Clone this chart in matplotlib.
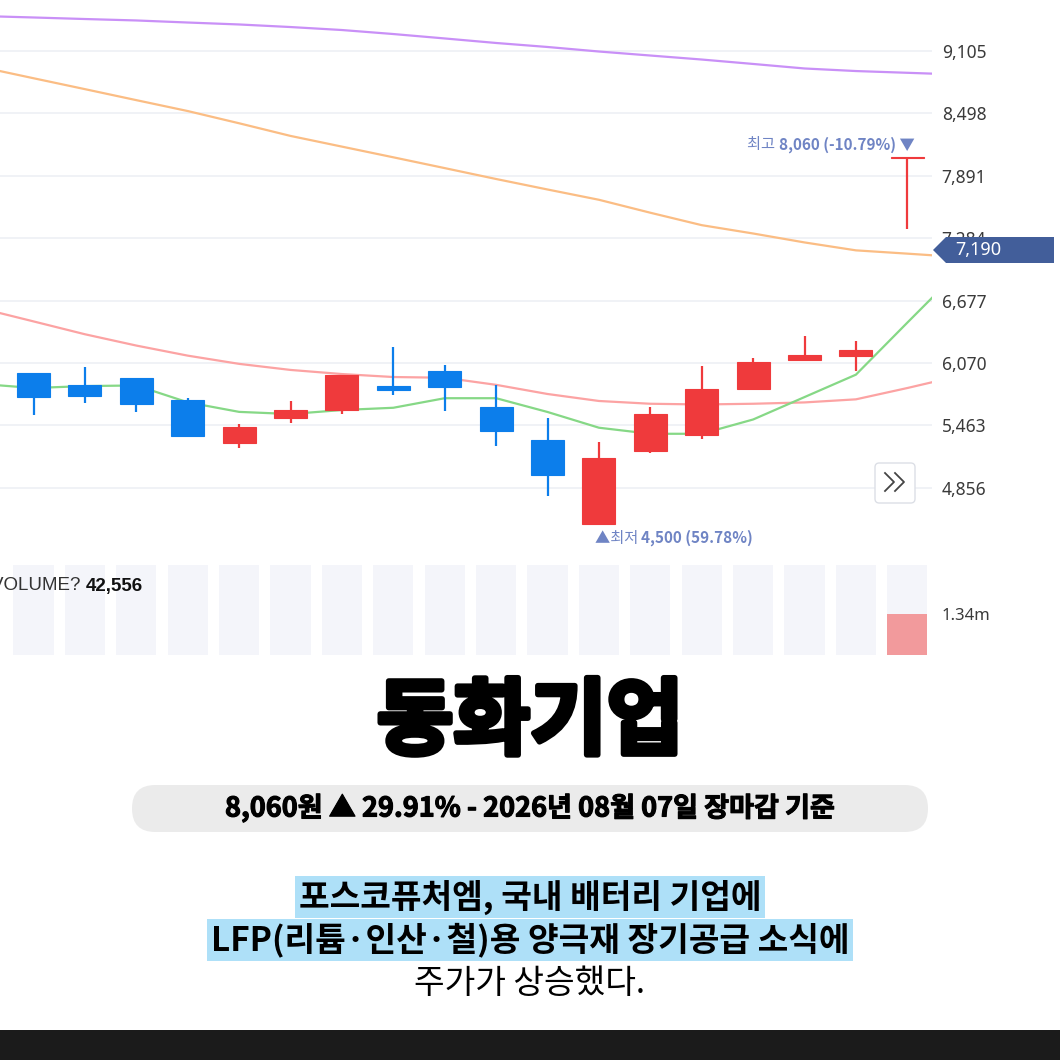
import numpy as np
import matplotlib
matplotlib.use("Agg")
import matplotlib.pyplot as plt
import matplotlib.patheffects as pe
from matplotlib.patches import FancyBboxPatch, Polygon, Rectangle
from matplotlib.lines import Line2D
from matplotlib.offsetbox import TextArea, HPacker, AnnotationBbox

plt.rcParams['font.family'] = ['Noto Sans CJK KR', 'DejaVu Sans']

# daily candles, oldest -> newest
opens  = [5973, 5856, 5924, 5710, 5292, 5535, 5613, 5846, 5992, 5642, 5321, 4500, 5214, 5370, 5817, 6099, 6138, 8060]
highs  = [5973, 6031, 5924, 5730, 5477, 5701, 5953, 6226, 6051, 5856, 5535, 5302, 5642, 6041, 6119, 6333, 6284, 8060]
lows   = [5564, 5681, 5594, 5360, 5243, 5487, 5574, 5759, 5603, 5263, 4776, 4500, 5195, 5331, 5817, 6099, 5992, 7374]
closes = [5739, 5749, 5671, 5360, 5448, 5613, 5953, 5808, 5837, 5409, 4981, 5146, 5574, 5817, 6080, 6148, 6197, 8060]
volumes = [0, 0, 0, 0, 0, 0, 0, 0, 0, 0, 0, 0, 0, 0, 0, 0, 0, 1340000]

# moving averages read at candle slots -1 .. 18 (ends clipped by the axes)
ma_slots = list(range(-1, 19))
ma5   = [5866, 5827, 5846, 5852, 5688, 5595, 5574, 5613, 5635, 5728, 5728, 5594, 5441, 5382, 5382, 5521, 5739, 5957, 6463, 6965]
ma20  = [6599, 6475, 6350, 6240, 6142, 6062, 6003, 5963, 5934, 5927, 5858, 5769, 5701, 5674, 5667, 5674, 5687, 5717, 5827, 5944]
ma60  = [8947, 8840, 8734, 8627, 8521, 8402, 8279, 8175, 8071, 7966, 7860, 7758, 7658, 7532, 7411, 7330, 7243, 7166, 7134, 7101]
ma120 = [9445, 9431, 9416, 9402, 9382, 9363, 9338, 9309, 9270, 9227, 9183, 9144, 9100, 9061, 9022, 8979, 8935, 8910, 8893, 8876]

price_ticks = [4856, 5463, 6070, 6677, 7284, 7891, 8498, 9105]
last_label = "7,190"
last_volume_label = "42,556"

title = "동화기업"
subtitle = "8,060원 ▲ 29.91% - 2026년 08월 07일 장마감 기준"
body = ["포스코퓨처엠, 국내 배터리 기업에",
        "LFP(리튬·인산·철)용 양극재 장기공급 소식에",
        "주가가 상승했다."]

RED = "#ef3a3c"
BLUE = "#0c7eeb"
W, H = 1060, 1060


def fx(x):
    return x / W


def fy(y):
    return 1 - y / H


fig = plt.figure(figsize=(10.6, 10.6), dpi=100)
fig.patch.set_facecolor("white")

# ---- price panel
ax = fig.add_axes([0, fy(555), fx(932), 555 / H])
ax.set_xlim(-0.652, 17.48)
ax.set_ylim(4203, 9601)
for s in ax.spines.values():
    s.set_visible(False)
ax.set_xticks([])
ax.yaxis.tick_right()
ax.set_yticks(price_ticks)
ax.set_yticklabels([f"{t:,}" for t in price_ticks], family="Noto Sans", fontsize=12.5, color="#3a3a3a")
ax.tick_params(axis="y", length=0, pad=7)
ax.grid(axis="y", color="#eef0f5", linewidth=1.2)
ax.set_axisbelow(True)

ax.plot(ma_slots, ma120, color="#c990f7", lw=1.6, zorder=2)
ax.plot(ma_slots, ma60, color="#fbbd84", lw=1.6, zorder=2)
ax.plot(ma_slots, ma20, color="#fca3a3", lw=1.6, zorder=2)
ax.plot(ma_slots, ma5, color="#86d886", lw=1.6, zorder=2)

x = np.arange(len(opens))
for i in x:
    o, h, l, c = opens[i], highs[i], lows[i], closes[i]
    col = RED if c >= o else BLUE
    ax.vlines(i, l, h, color=col, lw=1.6, zorder=3)
    bottom = min(o, c)
    height = max(abs(c - o), 18)
    ax.add_patch(Rectangle((i - 0.32, bottom), 0.64, height, facecolor=col, edgecolor=col, lw=0.8, zorder=4))

# high / low markers
imax = int(np.argmax(highs))
imin = int(np.argmin(lows))
lab_col = "#6f84c4"
hi_box = HPacker(children=[
    TextArea("최고 ", textprops=dict(color=lab_col, fontsize=11)),
    TextArea(f"{highs[imax]:,} (-10.79%) ▼", textprops=dict(color=lab_col, fontsize=11, weight="bold")),
], align="baseline", pad=0, sep=0)
ax.add_artist(AnnotationBbox(hi_box, (imax, highs[imax]), xybox=(5, 10), xycoords="data",
                             boxcoords="offset points", box_alignment=(1, 0.5), frameon=False))
lo_box = HPacker(children=[
    TextArea("▲최저 ", textprops=dict(color=lab_col, fontsize=11)),
    TextArea(f"{lows[imin]:,} (59.78%)", textprops=dict(color=lab_col, fontsize=11, weight="bold")),
], align="baseline", pad=0, sep=0)
ax.add_artist(AnnotationBbox(lo_box, (imin, lows[imin]), xybox=(-3, -10), xycoords="data",
                             boxcoords="offset points", box_alignment=(0, 0.5), frameon=False))

# ---- volume panel
vax = fig.add_axes([0, fy(655), fx(932), 90 / H])
vax.set_xlim(-0.652, 17.48)
vmax = 2940000
vax.set_ylim(0, vmax)
for s in vax.spines.values():
    s.set_visible(False)
vax.set_xticks([])
vax.yaxis.tick_right()
vax.set_yticks([volumes[-1]])
vax.set_yticklabels([f"{volumes[-1] / 1e6:.2f}m"], family="Noto Sans", fontsize=12, color="#3a3a3a")
vax.tick_params(axis="y", length=0, pad=7)
vax.bar(x, [vmax] * len(x), width=0.78, color="#f4f5fa", zorder=1)
vax.bar(x, volumes, width=0.78, color="#f29a9c", zorder=2)
vol_box = HPacker(children=[
    TextArea("VOLUME? ", textprops=dict(family="Liberation Sans", fontsize=13.5, color="#333333")),
    TextArea(last_volume_label, textprops=dict(family="Liberation Sans", fontsize=13.5, weight="bold", color="#111111")),
], align="baseline", pad=0, sep=0)
fig.add_artist(AnnotationBbox(vol_box, (fx(-9), fy(586)), xycoords="figure fraction",
                              box_alignment=(0, 0.5), frameon=False))

# current value tag on the price scale
tag = Polygon([[fx(933), fy(250)], [fx(946), fy(237)], [fx(1054), fy(237)], [fx(1054), fy(263)], [fx(946), fy(263)]],
              closed=True, transform=fig.transFigure, facecolor="#425e9a", edgecolor="none", zorder=5)
fig.add_artist(tag)
fig.text(fx(955), fy(250), last_label, family="Noto Sans", fontsize=13, color="white", va="center", zorder=6)

# scroll button
btn = FancyBboxPatch((fx(875), fy(503)), fx(40), 40 / H, boxstyle="round,pad=0,rounding_size=0.004",
                     transform=fig.transFigure, facecolor="white", edgecolor="#dcdfe6", lw=1.0, zorder=5)
fig.add_artist(btn)
for cx in (889, 899):
    fig.add_artist(Line2D([fx(cx - 4), fx(cx + 5), fx(cx - 4)], [fy(473), fy(482), fy(491)],
                          transform=fig.transFigure, color="#444444", lw=1.3, zorder=6))

# ---- title block
fig.text(0.5, fy(723), title, ha="center", va="center", fontsize=60, weight="heavy", color="black",
         path_effects=[pe.withStroke(linewidth=4, foreground="black")])
pill = FancyBboxPatch((fx(132), fy(832)), fx(796), 47 / H, boxstyle="round,pad=0,rounding_size=0.022",
                      transform=fig.transFigure, facecolor="#ebebeb", edgecolor="none")
fig.add_artist(pill)
fig.text(0.5, fy(808), subtitle, ha="center", va="center", fontsize=19.5, weight="bold", color="black",
         path_effects=[pe.withStroke(linewidth=0.8, foreground="black")])

hl = dict(boxstyle="square,pad=0.1", facecolor="#aee0f8", edgecolor="none")
fig.text(0.5, fy(897), body[0], ha="center", va="center", fontsize=24, weight="bold", color="black", bbox=hl)
fig.text(0.5, fy(940), body[1], ha="center", va="center", fontsize=24, weight="bold", color="black", bbox=hl)
fig.text(0.5, fy(983), body[2], ha="center", va="center", fontsize=24, color="black")

fig.add_artist(Rectangle((0, 0), 1, 30 / H, transform=fig.transFigure, facecolor="#1b1b1b", edgecolor="none"))

fig.savefig("out.png", dpi=100)
